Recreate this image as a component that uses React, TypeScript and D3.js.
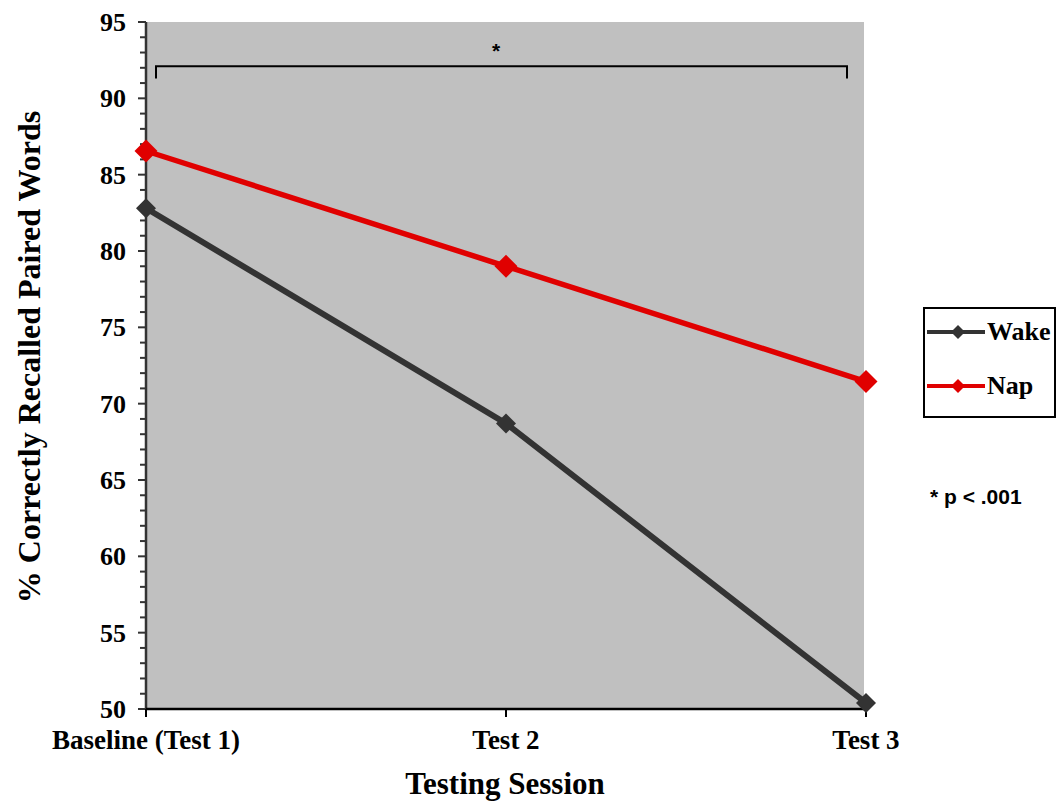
import React from 'react';
import * as d3 from 'd3';

const sessions = ['Baseline (Test 1)', 'Test 2', 'Test 3'];
const wakeValues = [82.8, 68.7, 50.4];
const napValues = [86.55, 79.0, 71.45];
const yTicks = [50, 55, 60, 65, 70, 75, 80, 85, 90, 95];

const W = 1057;
const H = 804;
const left = 146;
const plotRight = 864;
const top = 22;
const bottom = 709;

const serif = '"Liberation Serif", "Times New Roman", serif';
const sans = '"Liberation Sans", Arial, sans-serif';

const WAKE = '#333333';
const NAP = '#e00000';

const diamond = (cx: number, cy: number, r: number) =>
  `M${cx},${cy - r}L${cx + r},${cy}L${cx},${cy + r}L${cx - r},${cy}Z`;

export default function App() {
  const x = d3.scalePoint<string>().domain(sessions).range([left, 866]).padding(0);
  const y = d3.scaleLinear().domain([50, 95]).range([bottom, top]);

  const line = d3
    .line<number>()
    .x((_, i) => x(sessions[i]) as number)
    .y((d) => y(d));

  const minorTicks = d3.range(50, 96, 1);

  const series = [
    { name: 'Wake', values: wakeValues, color: WAKE, r: 10, w: 6 },
    { name: 'Nap', values: napValues, color: NAP, r: 11.5, w: 5.5 },
  ];

  return (
    <svg width={W} height={H} style={{ position: 'absolute', left: 0, top: 0 }}>
      <rect x={left} y={top} width={plotRight - left} height={bottom - top} fill="#c0c0c0" />

      {/* significance bracket */}
      <path
        d={`M${x(sessions[0])! + 10},${y(91.3)}V${y(92.1)}H${x(sessions[2])! - 19}V${y(91.3)}`}
        fill="none"
        stroke="#000"
        strokeWidth={2}
      />
      <text x={496} y={58} textAnchor="middle" fontFamily={sans} fontWeight="bold" fontSize={21}>
        *
      </text>

      {/* y axis */}
      <line x1={left} x2={left} y1={top} y2={bottom} stroke="#333" strokeWidth={2.5} />
      {minorTicks.map((t) => (
        <line
          key={'m' + t}
          x1={left - (t % 5 === 0 ? 8 : 6)}
          x2={left}
          y1={y(t)}
          y2={y(t)}
          stroke="#333"
          strokeWidth={2}
        />
      ))}
      {yTicks.map((t) => (
        <text
          key={t}
          x={126}
          y={y(t)}
          dy="0.34em"
          textAnchor="end"
          fontFamily={serif}
          fontWeight="bold"
          fontSize={26}
        >
          {t}
        </text>
      ))}

      {/* x axis */}
      <line x1={left} x2={plotRight} y1={bottom} y2={bottom} stroke="#000" strokeWidth={2.5} />
      {sessions.map((s) => (
        <g key={s}>
          <line x1={x(s)} x2={x(s)} y1={bottom} y2={bottom + 8} stroke="#000" strokeWidth={2} />
          <text
            x={x(s)}
            y={749}
            textAnchor="middle"
            fontFamily={serif}
            fontWeight="bold"
            fontSize={27}
          >
            {s}
          </text>
        </g>
      ))}

      {/* series */}
      {series.map((s) => (
        <g key={s.name}>
          <path d={line(s.values)!} fill="none" stroke={s.color} strokeWidth={s.w} />
          {s.values.map((v, i) => (
            <path key={i} d={diamond(x(sessions[i])!, y(v), s.r)} fill={s.color} />
          ))}
        </g>
      ))}

      {/* axis titles */}
      <text
        x={505}
        y={794}
        textAnchor="middle"
        fontFamily={serif}
        fontWeight="bold"
        fontSize={31}
      >
        Testing Session
      </text>
      <text
        transform="translate(40,357) rotate(-90)"
        textAnchor="middle"
        fontFamily={serif}
        fontWeight="bold"
        fontSize={32}
      >
        % Correctly Recalled Paired Words
      </text>

      {/* legend */}
      <rect x={924} y={308} width={131} height={109} fill="#fff" stroke="#000" strokeWidth={2} />
      {series.map((s, i) => {
        const ly = 332 + i * 54;
        return (
          <g key={'lg' + s.name}>
            <line x1={927} x2={985} y1={ly} y2={ly} stroke={s.color} strokeWidth={4} />
            <path d={diamond(958, ly, 7)} fill={s.color} />
            <text x={987} y={ly + 8} fontFamily={serif} fontWeight="bold" fontSize={26}>
              {s.name}
            </text>
          </g>
        );
      })}

      <text x={930} y={504} fontFamily={sans} fontWeight="bold" fontSize={21}>
        * p &lt; .001
      </text>
    </svg>
  );
}
